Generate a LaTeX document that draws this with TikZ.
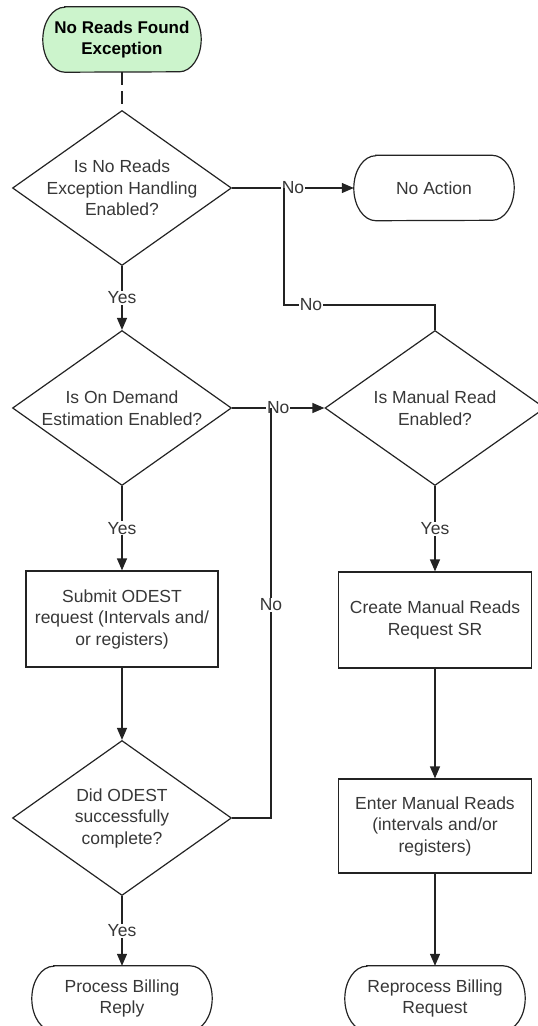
\documentclass[tikz,border=0pt]{standalone}
\usepackage{fontspec}
\setmainfont{Liberation Sans}
\usetikzlibrary{shapes.geometric,arrows.meta,backgrounds}
\definecolor{inkline}{RGB}{35,35,35}
\definecolor{inktext}{RGB}{55,55,55}
\definecolor{startgreen}{RGB}{204,244,204}
% outline of a terminator: straight top and bottom, elliptical ends
\newcommand\termoutline[2][]{%
  \draw[flow,#1] ([xshift=22pt]#2.north west) -- ([xshift=-22pt]#2.north east)
    arc[start angle=90,end angle=-90,x radius=22pt,y radius=32.5pt]
    -- ([xshift=22pt]#2.south west)
    arc[start angle=270,end angle=90,x radius=22pt,y radius=32.5pt] -- cycle;}
\begin{document}
\begin{tikzpicture}[x=1pt,y=1pt,
  font=\fontsize{17.5}{21.5}\selectfont,
  every node/.style={text=inktext},
  flow/.style={draw=inkline, line width=1.2pt},
  arr/.style={flow, -{Triangle[length=12pt,width=10pt]}},
  term/.style={rectangle, inner sep=0, minimum height=65pt, align=center},
  stepbox/.style={rectangle, draw=inkline, line width=1.2pt, inner sep=0, align=center},
  decision/.style={diamond, draw=inkline, line width=1.2pt, inner sep=0,
    minimum width=219pt, minimum height=155pt},
  qtext/.style={align=center, text=inktext},
  tag/.style={fill=white, inner sep=1pt},
]
\useasboundingbox (0,0) rectangle (538,-1026);

% nodes
\node[term, minimum width=158pt, text=black, font=\fontsize{17}{21}\selectfont\bfseries]
  (start) at (122,-39.5) {No Reads Found\\Exception};
\node[decision, label={[qtext]center:Is No Reads\\Exception Handling\\Enabled?}]
  (d1) at (122,-188) {};
\node[term, minimum width=160pt] (noaction) at (434,-188) {No Action};
\node[decision, label={[qtext]center:Is On Demand\\Estimation Enabled?}]
  (d2) at (122,-408) {};
\node[decision, minimum width=220pt, label={[qtext]center:Is Manual Read\\Enabled?}]
  (d3) at (435,-408) {};
\node[stepbox, minimum width=192pt, minimum height=96pt]
  (submit) at (122,-619) {Submit ODEST\\request (Intervals and/\\or registers)};
\node[stepbox, minimum width=193pt, minimum height=96pt]
  (create) at (435,-620) {Create Manual Reads\\Request SR};
\node[decision, label={[qtext]center:Did ODEST\\successfully\\complete?}]
  (d4) at (122,-818) {};
\node[stepbox, minimum width=193pt, minimum height=94pt]
  (enter) at (435,-826) {Enter Manual Reads\\(intervals and/or\\registers)};
\node[term, minimum width=180pt] (process) at (122,-998.5) {Process Billing\\Reply};
\node[term, minimum width=180pt] (reprocess) at (435,-998.5) {Reprocess Billing\\Request};

% terminator outlines
\begin{scope}[on background layer]
  \termoutline[fill=startgreen]{start}
  \termoutline{noaction}
  \termoutline{process}
  \termoutline{reprocess}
\end{scope}

% junction points of the "No" branches
\coordinate (j1) at (284,-188);
\coordinate (bend) at (284,-305);
\coordinate (j2) at (271,-408);

% connectors
\draw[flow, dash pattern=on 13pt off 6pt] (start.south) -- (d1.north);
\draw[arr] (d1.east) -- node[tag]{No} (noaction.west);
\draw[flow] (d3.north) |- (bend) -- (j1);
\node[tag] at (311,-305) {No};
\draw[arr] (d1.south) -- node[tag]{Yes} (d2.north);
\draw[arr] (d2.east) -- node[tag]{No} (d3.west);
\draw[arr] (d2.south) -- node[tag]{Yes} (submit.north);
\draw[arr] (submit.south) -- (d4.north);
\draw[flow] (d4.east) -| (j2);
\node[tag] at (271,-605) {No};
\draw[arr] (d4.south) -- node[tag]{Yes} (process.north);
\draw[arr] (d3.south) -- node[tag]{Yes} (create.north);
\draw[arr] (create.south) -- (enter.north);
\draw[arr] (enter.south) -- (reprocess.north);
\end{tikzpicture}
\end{document}
